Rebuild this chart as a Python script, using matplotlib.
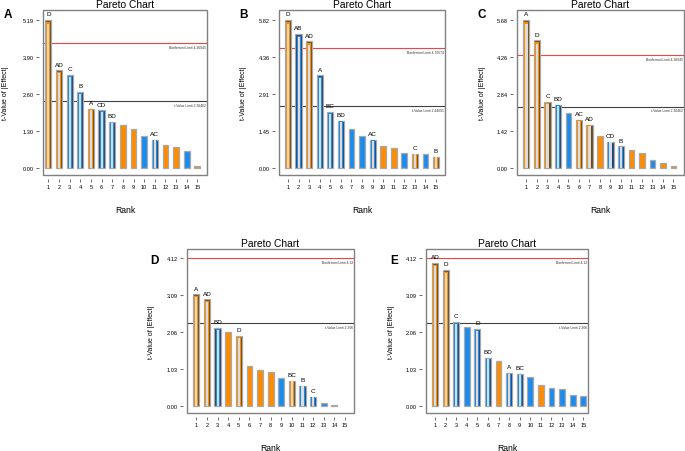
import numpy as np
import matplotlib
matplotlib.use("Agg")
import matplotlib.pyplot as plt
from matplotlib.patches import Rectangle
import matplotlib.transforms as mtransforms

plt.rcParams['font.family'] = ['Liberation Sans', 'DejaVu Sans']

ranks = list(range(1, 16))

# Panel A
a_values = [5.19, 3.42, 3.26, 2.66, 2.09, 2.03, 1.62, 1.53, 1.37, 1.13, 1.00, 0.81, 0.74, 0.62, 0.08]
a_signs = ['+', '+', '-', '-', '+', '-', '-', '+', '+', '-', '-', '+', '+', '-', '+']
a_labels = ['D', 'AD', 'C', 'B', 'A', 'CD', 'BD', '', '', '', 'AC', '', '', '', '']
a_ticks = ['0.00', '1.30', '2.60', '3.90', '5.19']
a_limits = [4.37, 2.36]
a_limit_text = ['Bonferroni Limit 4.36045', 't-Value Limit 2.36462']

# Panel B
b_values = [5.82, 5.27, 4.97, 3.64, 2.20, 1.87, 1.53, 1.26, 1.11, 0.86, 0.80, 0.61, 0.58, 0.56, 0.46]
b_signs = ['+', '-', '+', '-', '-', '-', '-', '-', '-', '+', '+', '-', '+', '-', '+']
b_labels = ['D', 'AB', 'AD', 'A', 'BC', 'BD', '', '', 'AC', '', '', '', 'C', '', 'B']
b_ticks = ['0.00', '1.45', '2.91', '4.36', '5.82']
b_limits = [4.70, 2.45]
b_limit_text = ['Bonferroni Limit 4.70574', 't-Value Limit 2.44691']

# Panel C
c_values = [5.68, 4.89, 2.54, 2.44, 2.12, 1.86, 1.67, 1.23, 1.02, 0.84, 0.70, 0.57, 0.33, 0.19, 0.09]
c_signs = ['+', '+', '+', '-', '-', '+', '+', '+', '-', '-', '+', '+', '-', '+', '+']
c_labels = ['A', 'D', 'C', 'BD', '', 'AC', 'AD', '', 'CD', 'B', '', '', '', '', '']
c_ticks = ['0.00', '1.42', '2.84', '4.26', '5.68']
c_limits = [4.34, 2.36]
c_limit_text = ['Bonferroni Limit 4.36045', 't-Value Limit 2.36462']

# Panel D
d_values = [3.11, 2.97, 2.17, 2.05, 1.95, 1.12, 0.99, 0.93, 0.78, 0.70, 0.55, 0.25, 0.06, 0.03, 0.0]
d_signs = ['+', '+', '-', '+', '+', '+', '+', '+', '-', '+', '-', '-', '-', '+', '+']
d_labels = ['A', 'AD', 'BD', '', 'D', '', '', '', '', 'BC', 'B', 'C', '', '', '']
d_ticks = ['0.00', '1.03', '2.06', '3.09', '4.12']
d_limits = [4.12, 2.31]
d_limit_text = ['Bonferroni Limit 4.12', 't-Value Limit 2.306']

# Panel E
e_values = [3.99, 3.79, 2.34, 2.19, 2.14, 1.33, 1.25, 0.91, 0.88, 0.80, 0.59, 0.48, 0.47, 0.31, 0.28]
e_signs = ['+', '+', '-', '-', '-', '-', '+', '-', '-', '-', '+', '-', '-', '-', '-']
e_labels = ['AD', 'D', 'C', '', 'D', 'BD', '', 'A', 'BC', '', '', '', '', '', '']
e_ticks = ['0.00', '1.03', '2.06', '3.09', '4.12']
e_limits = [4.12, 2.31]
e_limit_text = ['Bonferroni Limit 4.12', 't-Value Limit 2.306']

panel_letters = ['A', 'B', 'C', 'D', 'E']

W, H = 685, 452
fig = plt.figure(figsize=(W / 100, H / 100), dpi=100)


def px_rect(x0, y0, x1, y1):
    return [x0 / W, 1 - y1 / H, (x1 - x0) / W, (y1 - y0) / H]


ORANGE = '#ff8c00'
BLUE = '#1a8cf0'
DARK = {'+': '#6e4a12', '-': '#1d4270'}
FILL = {'+': ORANGE, '-': BLUE}


def draw_panel(rect, values, signs, labels, ticks, limits, limit_text, xlim, ylim_f, ylabx):
    ax = fig.add_axes(rect)
    top = float(ticks[-1])
    for r, v, s, lab in zip(ranks, values, signs, labels):
        if v <= 0:
            continue
        if lab:
            ax.bar(r, v, width=0.58, color=DARK[s], edgecolor='#a8a8a8', linewidth=0.9, zorder=3)
            ax.bar(r, v * 0.985, width=0.38, color=FILL[s], linewidth=0, zorder=4)
            ax.bar(r, v * 0.975, width=0.2, color='#dcdcdc', linewidth=0, zorder=5)
            ax.text(r, v + top * 0.025, lab, ha='center', va='bottom', fontsize=4.6, zorder=6)
        else:
            ax.bar(r, v, width=0.55, color=FILL[s], edgecolor='#a8a8a8', linewidth=0.9, zorder=3)
    trans = mtransforms.blended_transform_factory(ax.transAxes, ax.transData)
    ax.axhline(limits[0], color='#ee4444', lw=0.8, zorder=2)
    ax.axhline(limits[1], color='#404040', lw=0.8, zorder=2)
    for lv, lt in zip(limits, limit_text):
        ax.text(0.995, lv - top * 0.012, lt, transform=trans, ha='right', va='top', fontsize=2.4, color='#333333')
    ax.set_xlim(*xlim)
    ax.set_ylim(ylim_f[0] * top, ylim_f[1] * top)
    ax.set_yticks(np.linspace(0, top, 5))
    ax.set_yticklabels(ticks)
    ax.set_xticks(ranks)
    ax.set_xticklabels([str(r) for r in ranks])
    for side in ['top', 'right']:
        ax.spines[side].set_visible(False)
    for side in ['left', 'bottom']:
        ax.spines[side].set_position(('outward', 3))
        ax.spines[side].set_color('none')
    ax.tick_params(axis='both', labelsize=4.1, length=2.2, width=0.6, color='#555555', pad=1.5)
    ax.add_patch(Rectangle((0, 0), 1, 1, transform=ax.transAxes, fill=False,
                           ec='#808080', lw=1.0, clip_on=False, zorder=7))
    ax.set_title('Pareto Chart', fontsize=7.4, pad=2)
    ax.set_ylabel('t-Value of |Effect|', fontsize=5.0)
    ax.set_xlabel('Rank', fontsize=6.2)
    ax.yaxis.set_label_coords(ylabx, 0.5)
    ax.xaxis.set_label_coords(0.5, -0.18)
    return ax


draw_panel(px_rect(43, 11, 207, 176), a_values, a_signs, a_labels, a_ticks, a_limits, a_limit_text,
           (0.5, 15.9), (-0.045, 1.066), -0.21)
draw_panel(px_rect(279, 11, 445, 176), b_values, b_signs, b_labels, b_ticks, b_limits, b_limit_text,
           (0.15, 15.85), (-0.045, 1.066), -0.19)
draw_panel(px_rect(517, 11, 684, 176), c_values, c_signs, c_labels, c_ticks, c_limits, c_limit_text,
           (0.1, 16.0), (-0.045, 1.066), -0.185)
draw_panel(px_rect(187, 250, 354, 414), d_values, d_signs, d_labels, d_ticks, d_limits, d_limit_text,
           (0.12, 15.85), (-0.05, 1.063), -0.19)
draw_panel(px_rect(426, 250, 588, 414), e_values, e_signs, e_labels, e_ticks, e_limits, e_limit_text,
           (0.15, 15.45), (-0.05, 1.063), -0.19)

letter_pos = [(4, 18), (239, 18), (478, 18), (150, 264), (390, 264)]
for letter, (x, y) in zip(panel_letters, letter_pos):
    fig.text(x / W, 1 - y / H, letter, fontsize=8.5, fontweight='bold', ha='left', va='baseline')

fig.savefig('out.png', dpi=100)
